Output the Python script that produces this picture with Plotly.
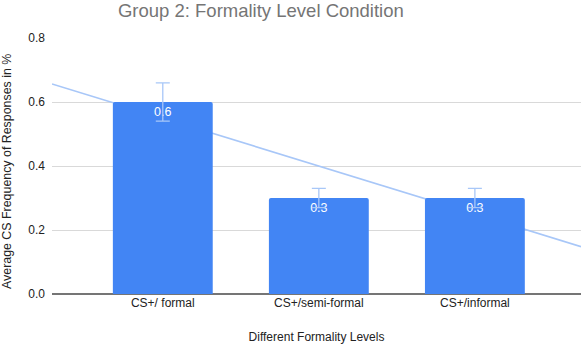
import numpy as np
import plotly.graph_objects as go

categories = ["CS+/ formal", "CS+/semi-formal", "CS+/informal"]
values = [0.6, 0.3, 0.3]
error_pct = 10
labels = ["0.6", "0.3", "0.3"]
y_ticks = [0.0, 0.2, 0.4, 0.6, 0.8]
y_ticktext = ["0.0", "0.2", "0.4", "0.6", "0.8"]

xpos = list(range(len(categories)))
xrange = [-0.71, 2.68]

slope, intercept = np.polyfit(xpos, values, 1)
tx = np.array(xrange)
ty = slope * tx + intercept

font_family = "Liberation Sans, Arial, sans-serif"

fig = go.Figure()
fig.add_trace(go.Scatter(
    x=tx, y=ty, mode="lines",
    line=dict(color="#a8c7f8", width=1.6),
    hoverinfo="skip", showlegend=False, zorder=0,
))
fig.add_trace(go.Bar(
    x=xpos, y=values, width=0.64,
    marker=dict(color="#4285f4", line=dict(width=0), cornerradius=2),
    text=labels, textposition="inside", insidetextanchor="end",
    textfont=dict(color="white", size=12.5, family=font_family),
    error_y=dict(type="percent", value=error_pct, color="#a8c7f8",
                 thickness=1.3, width=7),
    showlegend=False, zorder=1,
))

fig.update_layout(
    width=581, height=344,
    margin=dict(l=52, r=0, t=38, b=50),
    paper_bgcolor="white", plot_bgcolor="white",
    font=dict(family=font_family, color="#222222", size=12),
    title=dict(text="Group 2: Formality Level Condition",
               font=dict(size=18.5, color="#757575", family=font_family),
               x=0.449, xanchor="center", xref="container",
               y=0.968, yanchor="middle", yref="container"),
    xaxis=dict(range=xrange, tickvals=xpos, ticktext=categories,
               showgrid=False, zeroline=False, showline=False,
               ticks="", tickfont=dict(size=12, color="#222222"),
               title=dict(text="Different Formality Levels",
                          font=dict(size=12, color="#222222"), standoff=24)),
    yaxis=dict(range=[0, 0.8], tickvals=y_ticks, ticktext=y_ticktext,
               showgrid=True, gridcolor="#d9d9d9", gridwidth=1,
               zeroline=True, zerolinecolor="#757575", zerolinewidth=1.5,
               showline=False, ticks="", ticklabelstandoff=6,
               tickfont=dict(size=12, color="#222222")),
    annotations=[dict(
        text="Average CS Frequency of Responses in %",
        xref="paper", yref="paper", x=-45 / 529, y=(294 - 172) / 256,
        xanchor="center", yanchor="middle", textangle=-90, showarrow=False,
        font=dict(size=12.4, color="#222222", family=font_family),
    )],
)

fig.write_html("out.html")
